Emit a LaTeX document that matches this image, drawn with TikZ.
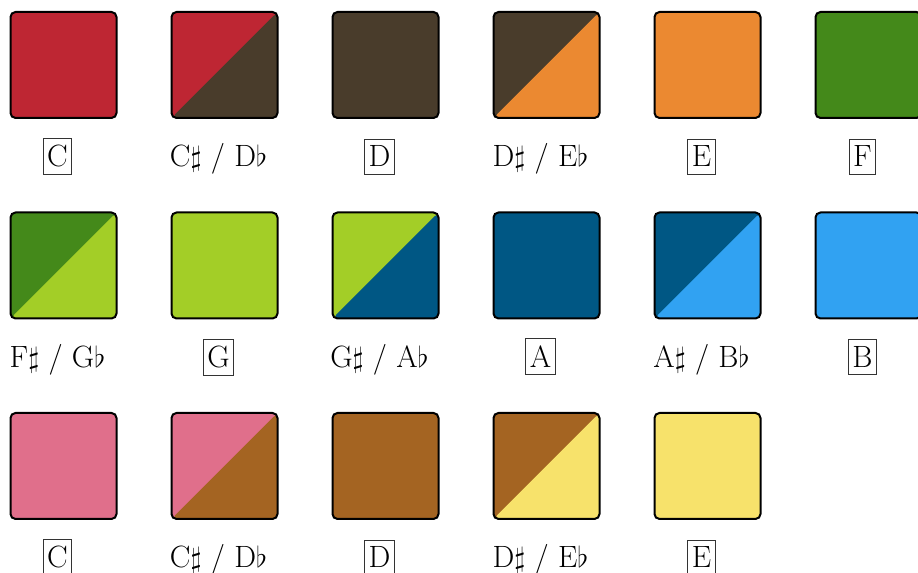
\documentclass[tikz,border=0pt]{standalone}
\usepackage{amsmath,amssymb}

% palette
\definecolor{padred}{HTML}{BE2633}
\definecolor{paddkbrown}{HTML}{493C2B}
\definecolor{padorange}{HTML}{EB8931}
\definecolor{padgreen}{HTML}{44891A}
\definecolor{padltgreen}{HTML}{A3CE27}
\definecolor{paddkblue}{HTML}{005784}
\definecolor{padltblue}{HTML}{31A2F2}
\definecolor{padpink}{HTML}{E06F8B}
\definecolor{padbrown}{HTML}{A46422}
\definecolor{padyellow}{HTML}{F7E26B}

\newcommand{\notefont}{\fontsize{15.4}{18}\selectfont}

\tikzset{
  swatch/.style 2 args={draw=black, line width=1pt, rounded corners=2.5pt,
    fill=#1, minimum size=53pt, inner sep=0pt,
    path picture={\fill[#2] (path picture bounding box.south west)
      -- (path picture bounding box.north east)
      -- (path picture bounding box.south east) -- cycle;}},
  natural/.style={draw=black!80, line width=0.4pt, inner xsep=2pt, inner ysep=3.5pt, font=\notefont},
  accidental/.style={inner sep=0pt, font=\notefont}
}

\begin{document}
\begin{tikzpicture}[x=0.5pt, y=0.5pt]
  \useasboundingbox (0,0) rectangle (918,573);
  \clip (0,0) rectangle (918,573);

  % Key swatches, six per row
  \foreach \i/\ca/\cb/\txt/\lbl in {
      0/padred/padred/C/natural,
      1/padred/paddkbrown/{C$\sharp$ / D$\flat$}/accidental,
      2/paddkbrown/paddkbrown/D/natural,
      3/paddkbrown/padorange/{D$\sharp$ / E$\flat$}/accidental,
      4/padorange/padorange/E/natural,
      5/padgreen/padgreen/F/natural,
      6/padgreen/padltgreen/{F$\sharp$ / G$\flat$}/accidental,
      7/padltgreen/padltgreen/G/natural,
      8/padltgreen/paddkblue/{G$\sharp$ / A$\flat$}/accidental,
      9/paddkblue/paddkblue/A/natural,
      10/paddkblue/padltblue/{A$\sharp$ / B$\flat$}/accidental,
      11/padltblue/padltblue/B/natural,
      12/padpink/padpink/C/natural,
      13/padpink/padbrown/{C$\sharp$ / D$\flat$}/accidental,
      14/padbrown/padbrown/D/natural,
      15/padbrown/padyellow/{D$\sharp$ / E$\flat$}/accidental,
      16/padyellow/padyellow/E/natural} {
    \pgfmathtruncatemacro{\col}{mod(\i,6)}
    \pgfmathtruncatemacro{\row}{int(\i/6)}
    \node[swatch={\ca}{\cb}] (sw\i) at ({63.5+161*\col}, {508-200.5*\row}) {};
    \node[\lbl, anchor=base] (lb\i) at ([shift={(-6,-102)}]sw\i.center) {\txt};
  }
\end{tikzpicture}
\end{document}
